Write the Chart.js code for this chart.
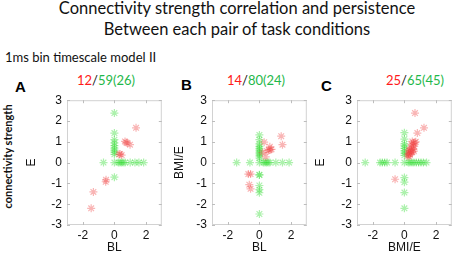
<!DOCTYPE html>
<html>
<head>
<meta charset="utf-8">
<script src="https://cdn.jsdelivr.net/npm/chart.js@4"></script>
<style>
  html, body { margin:0; padding:0; width:454px; height:253px; overflow:hidden; background:#fff; }
  .t { position:absolute; white-space:nowrap; font-family:Lato, "Open Sans", sans-serif; color:#111; }
  .lbl { position:absolute; white-space:nowrap; font-family:"Liberation Sans", Arial, sans-serif; font-weight:bold; font-size:15px; color:#000; }
  canvas { position:absolute; }
  .r { color:#ff1a1a; }
  .g { color:#1fb84a; }
</style>
</head>
<body>
<div class="t" style="left:0;width:474px;text-align:center;top:-2px;font-size:16.5px;line-height:21px">Connectivity strength correlation and persistence<br>Between each pair of task conditions</div>
<div class="t" style="left:5px;top:49px;font-size:13px">1ms bin timescale model II</div>
<div class="t" style="left:-40px;top:155px;width:94px;text-align:center;font-size:11px;font-weight:bold;transform:rotate(-90deg)">connectivity strength</div>

<div class="lbl" style="left:15px;top:78px">A</div>
<div class="lbl" style="left:181px;top:76px">B</div>
<div class="lbl" style="left:321px;top:77px">C</div>

<div class="t" id="annA" style="left:77px;top:72px;font-size:13px"></div>
<div class="t" id="annB" style="left:227px;top:72px;font-size:13px"></div>
<div class="t" id="annC" style="left:386px;top:72px;font-size:13px"></div>

<canvas id="chartA" width="145" height="167" style="left:22px;top:88px"></canvas>
<canvas id="chartB" width="145" height="167" style="left:167px;top:88px"></canvas>
<canvas id="chartC" width="145" height="167" style="left:312px;top:88px"></canvas>

<script>
// tick values shared by all three panels
const xTicks = [-2, 0, 2];
const yTicks = [-3, -2, -1, 0, 1, 2, 3];

// counts shown above each panel: red / green(overlap)
const countsA = ['12', '59(26)'];
const countsB = ['14', '80(24)'];
const countsC = ['25', '65(45)'];

// panel A : E vs BL
const redA = [[1.37,1.67],[0.67,1.02],[0.75,0.97],[0.82,0.94],[0.99,0.86],[0.36,0.41],[0.46,0.36],[0.3,0.4],
  [-0.53,-0.83],[-0.55,-0.92],[-1.33,-1.41],[-1.47,-2.2]];
const greenA = [[0,2.38],[0,1.42],[0,1.1],[0,0.95],[0,0.82],[0,0.7],[0,0.6],[0,0.5],[0,0.4],[0,0],[0,-0.7],
  [-0.69,0],[0.25,0],[0.35,0],[0.45,0],[0.55,0],[0.67,0],[1.0,0],[1.3,0],[1.55,0],[1.85,0]];

// panel B : BMI/E vs BL
const redB = [[1.38,1.27],[1.46,0.86],[0.3,0.98],[0.66,0.76],[0.77,0.64],[0.6,0.6],[0.48,0.56],[0.7,0.62],
  [0.2,0.48],[0.4,0.28],[-0.7,-0.55],[-0.56,-0.55],[-0.64,-1.06],[-0.56,-1.26]];
const greenB = [[0,1.33],[0,1.1],[0,0.9],[0,0.78],[0,0.68],[0,0.6],[0,0.5],[0,0.42],[0,0.32],[0,0.22],[0,0],
  [0,-0.58],[0,-0.6],[0,-1.1],[0,-1.3],[0,-1.45],[0,-2.47],
  [-1.44,0],[-0.6,0],[0.25,0],[0.35,0],[0.45,0],[0.55,0],[0.66,0],[1.04,0],[1.46,0],[1.88,0]];

// panel C : E vs BMI/E
const redC = [[0.67,2.38],[1.24,1.67],[0.82,1.42],[0.5,1.02],[0.67,0.97],[0.58,0.94],[0.42,0.71],[0.57,0.64],
  [0.62,0.78],[0.32,0.56],[0.45,0.52],[0.25,0.45],[0.38,0.45],[0.21,0.33],[0.29,0.29],[0.35,0.38],[0.5,0.5],
  [0.55,0.8],[0.72,1.0],[0.3,0.62],[0.4,0.6],[0.45,0.88],[0.27,0.4],[0.6,0.55],[-0.59,-0.8]];
const greenC = [[0,1.44],[0,1.13],[0,0.9],[0,0.8],[0,0.68],[0,0.56],[0,0.46],[0,0.35],[0,0],
  [0,-0.72],[0,-0.94],[0,-1.44],[0,-2.2],
  [-2.48,0],[-1.54,0],[-1.4,0],[-1.25,0],[-1.1,0],[-0.59,0],[0.25,0],[0.35,0],[0.48,0],[0.6,0],
  [0.75,0],[0.9,0],[1.05,0],[1.2,0],[1.4,0]];

function fillCounts(id, c) {
  document.getElementById(id).innerHTML =
    '<span class="r">' + c[0] + '</span>/<span class="g">' + c[1] + '</span>';
}

const toPts = arr => arr.map(p => ({ x: p[0], y: p[1] }));

// box round the plot + small inward ticks (matlab style)
const frame = {
  id: 'frame',
  beforeDatasetsDraw(chart) {
    const { ctx, chartArea: a, scales } = chart;
    ctx.save();
    ctx.strokeStyle = '#d2d2d2';
    ctx.lineWidth = 1;
    ctx.strokeRect(a.left + 0.5, a.top + 0.5, a.right - a.left - 1, a.bottom - a.top - 1);
    ctx.strokeStyle = '#bdbdbd';
    ctx.beginPath();
    xTicks.forEach(v => {
      const px = Math.round(scales.x.getPixelForValue(v)) + 0.5;
      ctx.moveTo(px, a.bottom); ctx.lineTo(px, a.bottom - 3);
      ctx.moveTo(px, a.top); ctx.lineTo(px, a.top + 3);
    });
    yTicks.forEach(v => {
      const py = Math.round(scales.y.getPixelForValue(v)) + 0.5;
      ctx.moveTo(a.left, py); ctx.lineTo(a.left + 3, py);
      ctx.moveTo(a.right, py); ctx.lineTo(a.right - 3, py);
    });
    ctx.stroke();
    ctx.restore();
  }
};

const tickFont = { family: '"Liberation Sans", Arial, sans-serif', size: 12 };

function build(id, red, green, xTitle, yTitle, yTitlePad) {
  const ctx = document.getElementById(id).getContext('2d');
  return new Chart(ctx, {
    type: 'scatter',
    data: { datasets: [
      { data: toPts(red), pointStyle: 'star', pointRadius: 4, borderWidth: 1.2,
        borderColor: 'rgba(240,70,70,0.4)', backgroundColor: 'rgba(240,70,70,0.4)' },
      { data: toPts(green), pointStyle: 'star', pointRadius: 4, borderWidth: 1.2,
        borderColor: 'rgba(50,220,50,0.4)', backgroundColor: 'rgba(50,220,50,0.4)' }
    ]},
    options: {
      responsive: false, animation: false, events: [],
      layout: { padding: { top: 5, right: 5, left: 0, bottom: 0 } },
      plugins: { legend: { display: false }, tooltip: { enabled: false } },
      scales: {
        x: {
          type: 'linear', min: -3, max: 3,
          afterBuildTicks: s => { s.ticks = xTicks.map(v => ({ value: v })); },
          afterFit: s => { s.height = 30; },
          grid: { display: false, drawTicks: false },
          border: { display: false },
          ticks: { font: tickFont, color: '#111', padding: 3, maxRotation: 0 },
          title: { display: true, text: xTitle, font: tickFont, color: '#111', padding: 0 }
        },
        y: {
          type: 'linear', min: -3, max: 3,
          afterBuildTicks: s => { s.ticks = yTicks.map(v => ({ value: v })); },
          afterFit: s => { s.width = 45; },
          grid: { display: false, drawTicks: false },
          border: { display: false },
          ticks: { font: tickFont, color: '#111', padding: 5 },
          title: { display: true, text: yTitle, font: tickFont, color: '#111', padding: { top: yTitlePad, bottom: 0 } }
        }
      }
    },
    plugins: [frame]
  });
}

fillCounts('annA', countsA);
fillCounts('annB', countsB);
fillCounts('annC', countsC);

build('chartA', redA, greenA, 'BL', 'E', 2);
build('chartB', redB, greenB, 'BL', 'BMI/E', 5);
build('chartC', redC, greenC, 'BMI/E', 'E', 1);
</script>
</body>
</html>
